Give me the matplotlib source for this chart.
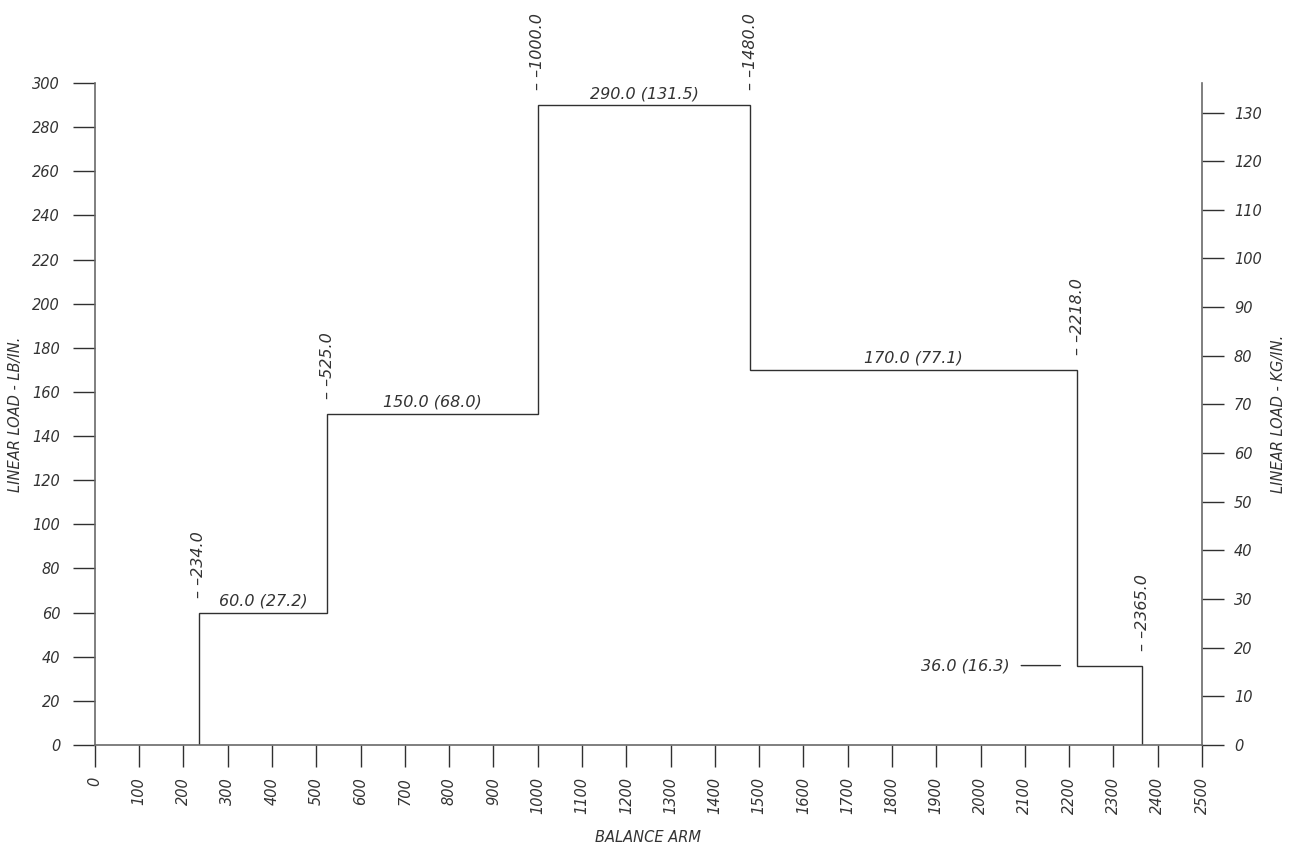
import matplotlib
matplotlib.use("Agg")
import matplotlib.pyplot as plt

# balance-arm stations and the linear load carried between them
stations = [234.0, 525.0, 1000.0, 1480.0, 2218.0, 2365.0]
load_lb = [60.0, 150.0, 290.0, 170.0, 36.0]
load_kg = [27.2, 68.0, 131.5, 77.1, 16.3]

x_ticks = list(range(0, 2501, 100))
y_ticks_lb = list(range(0, 301, 20))
y_ticks_kg = list(range(0, 131, 10))

LB_TO_KG = 0.45359237
INK = "#303030"
AXIS = "#6a6a6a"
TICK_FONT = dict(family="DejaVu Sans", style="italic", size=10.5, color="#333333")
NOTE_FONT = dict(family="DejaVu Sans", style="italic", size=11.5, color="#333333")

plt.rcParams["font.family"] = "DejaVu Sans"

fig = plt.figure(figsize=(13, 8.5), dpi=100)
ax = fig.add_axes([0.073, 0.1235, 0.8516, 0.7789])

ax.stairs(load_lb, stations, baseline=0, color=INK, lw=1.0)

ax.set_xlim(0, 2500)
ax.set_ylim(0, 300)
ax.set_xticks(x_ticks)
ax.set_yticks(y_ticks_lb)
ax.set_xticklabels([str(v) for v in x_ticks], rotation=90, **TICK_FONT)
ax.set_yticklabels([str(v) for v in y_ticks_lb], **TICK_FONT)
ax.tick_params(axis="both", direction="out", length=16, width=1.0, color=INK)
ax.tick_params(axis="x", pad=7)
ax.tick_params(axis="y", pad=9)

for side in ["top", "right"]:
    ax.spines[side].set_visible(False)
for side in ["left", "bottom"]:
    ax.spines[side].set_color(AXIS)
    ax.spines[side].set_linewidth(1.2)

ax.set_xlabel("BALANCE ARM", **TICK_FONT)
ax.xaxis.set_label_coords(0.5, -0.128)
ax.set_ylabel("LINEAR LOAD - LB/IN.", **TICK_FONT)
ax.yaxis.set_label_coords(-0.065, 0.5)

# metric scale on the right
ax2 = ax.twinx()
ax2.set_ylim(0, 300 * LB_TO_KG)
ax2.set_yticks(y_ticks_kg)
ax2.set_yticklabels([str(v) for v in y_ticks_kg], **TICK_FONT)
ax2.tick_params(axis="y", direction="out", length=16, width=1.0, color=INK, pad=7)
for side in ["top", "left", "bottom"]:
    ax2.spines[side].set_visible(False)
ax2.spines["right"].set_color(AXIS)
ax2.spines["right"].set_linewidth(1.2)
ax2.set_ylabel("LINEAR LOAD - KG/IN.", **TICK_FONT)
ax2.yaxis.set_label_coords(1.062, 0.5)

# station call-outs above each step corner
for i, s in enumerate(stations):
    neighbours = load_lb[max(i - 1, 0):i + 1]
    top = max(neighbours)
    ax.annotate(f"\u2013 \u2013{s:.1f}", xy=(s, top), xytext=(0, 15),
                textcoords="offset pixels", rotation=90,
                ha="center", va="bottom", annotation_clip=False, **NOTE_FONT)

# load values on each segment
for i, (lb, kg) in enumerate(zip(load_lb, load_kg)):
    label = f"{lb:.1f} ({kg:.1f})"
    if i == len(load_lb) - 1:
        ax.annotate(label, xy=(stations[i], lb), xytext=(-67, 0),
                    textcoords="offset pixels", ha="right", va="center",
                    arrowprops=dict(arrowstyle="-", color=INK, lw=1.0,
                                    shrinkA=6, shrinkB=12),
                    **NOTE_FONT)
    else:
        mid = (stations[i] + stations[i + 1]) / 2
        ax.annotate(label, xy=(mid, lb), xytext=(0, 4),
                    textcoords="offset pixels", ha="center", va="bottom",
                    **NOTE_FONT)

fig.savefig("out.png", dpi=100, facecolor="white")
